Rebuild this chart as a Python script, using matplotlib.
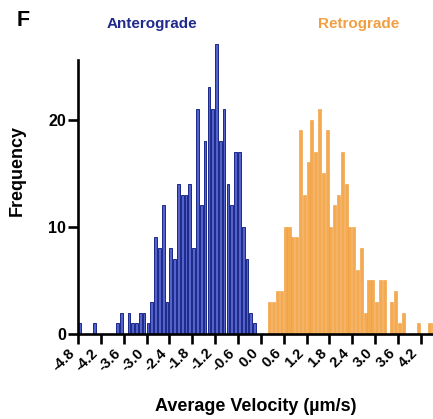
import numpy as np
import matplotlib
matplotlib.use("Agg")
import matplotlib.pyplot as plt

plt.rcParams["font.family"] = ["Liberation Sans", "DejaVu Sans"]
plt.rcParams["font.weight"] = "bold"

# Histogram counts, bin width 0.1 µm/s
bin_width = 0.1
antero_start = -4.8
antero_counts = [1, 0, 0, 0, 1, 0, 0, 0, 0, 0,
                 1, 2, 0, 2, 1, 1, 2, 2, 1, 3,
                 9, 8, 12, 3, 8, 7, 14, 13, 13, 14,
                 8, 21, 12, 18, 23, 21, 27, 18, 21, 14,
                 12, 17, 17, 10, 7, 2, 1, 0]
retro_start = 0.0
retro_counts = [0, 0, 3, 3, 4, 4, 10, 10, 9, 9,
                19, 13, 16, 20, 17, 21, 15, 19, 10, 12,
                13, 17, 14, 10, 10, 6, 8, 2, 5, 5,
                3, 5, 5, 0, 3, 4, 1, 2, 0, 0,
                0, 1, 0, 0, 1, 1]

xticks = [-4.8, -4.2, -3.6, -3.0, -2.4, -1.8, -1.2, -0.6, 0.0,
          0.6, 1.2, 1.8, 2.4, 3.0, 3.6, 4.2]
xtick_labels = ["-4.8", "-4.2", "-3.6", "-3.0", "-2.4", "-1.8", "-1.2", "-0.6", "0.0",
                "0.6", "1.2", "1.8", "2.4", "3.0", "3.6", "4.2"]
yticks = [0, 10, 20]

W, H = 433, 419
fig = plt.figure(figsize=(W / 100, H / 100), dpi=100)
ax = fig.add_axes([78 / W, 1 - 334 / H, (W - 78) / W, (334 - 60) / H])

antero_edges = antero_start + bin_width * np.arange(len(antero_counts))
retro_edges = retro_start + bin_width * np.arange(len(retro_counts))

ax.bar(antero_edges, antero_counts, width=bin_width * 0.72, align="edge",
       color="#5363c9", edgecolor="#1b2889", linewidth=0.7, clip_on=False, zorder=2)
ax.bar(retro_edges, retro_counts, width=bin_width * 0.8, align="edge",
       color="#f5aa50", edgecolor="#f09c3a", linewidth=0.4, zorder=2)

ax.set_xlim(-4.8, 4.52)
ax.set_ylim(0, 25.55)

for side in ("top", "right"):
    ax.spines[side].set_visible(False)
for side in ("left", "bottom"):
    ax.spines[side].set_linewidth(1.9)
    ax.spines[side].set_zorder(3)

ax.set_xticks(xticks)
ax.set_xticklabels(xtick_labels, rotation=45, ha="right", va="top",
                   fontsize=10.5, fontweight="bold")
ax.set_yticks(yticks)
ax.set_yticklabels([str(v) for v in yticks], fontsize=11.5, fontweight="bold")
ax.tick_params(axis="both", direction="out", length=7, width=1.9, pad=1.5)

fig.text(17 / W, 1 - 171 / H, "Frequency", rotation=90, ha="center", va="center",
         fontsize=13, fontweight="bold")
fig.text(256 / W, 1 - 406 / H, "Average Velocity (µm/s)", ha="center", va="center",
         fontsize=13, fontweight="bold")

fig.text(23 / W, 1 - 21 / H, "F", ha="center", va="center",
         fontsize=15.5, fontweight="bold", color="black")
fig.text(152 / W, 1 - 24 / H, "Anterograde", ha="center", va="center",
         fontsize=11, fontweight="bold", color="#1f2a8c")
fig.text(359 / W, 1 - 24 / H, "Retrograde", ha="center", va="center",
         fontsize=11, fontweight="bold", color="#f0a042")

fig.savefig("out.png", dpi=100)
